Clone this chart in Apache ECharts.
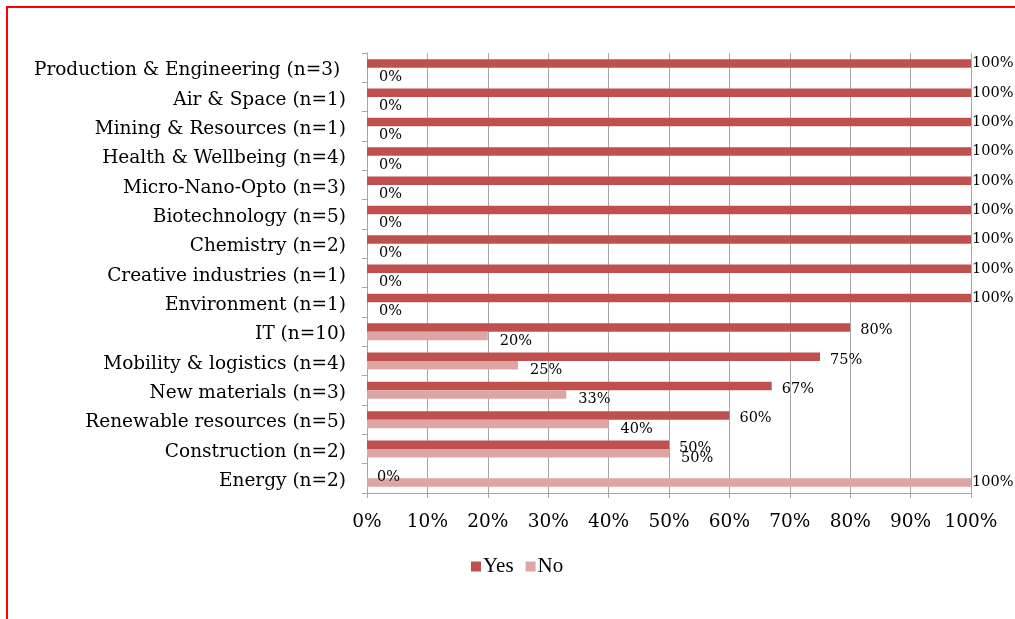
<!DOCTYPE html>
<html>
<head>
<meta charset="utf-8">
<title>Sectors</title>
<script src="https://cdn.jsdelivr.net/npm/echarts@6/dist/echarts.min.js"></script>
<style>
  html, body { margin: 0; padding: 0; background: #fff; }
  #chart { width: 1015px; height: 619px; }
</style>
</head>
<body>
<div id="chart"></div>
<script>
// Sectors, listed top to bottom
const categories = [
  'Production & Engineering (n=3) ',
  'Air & Space (n=1)',
  'Mining & Resources (n=1)',
  'Health & Wellbeing (n=4)',
  'Micro-Nano-Opto (n=3)',
  'Biotechnology (n=5)',
  'Chemistry (n=2)',
  'Creative industries (n=1)',
  'Environment (n=1)',
  'IT (n=10)',
  'Mobility & logistics (n=4)',
  'New materials (n=3)',
  'Renewable resources (n=5)',
  'Construction (n=2)',
  'Energy (n=2)'
];
const yesValues = [100, 100, 100, 100, 100, 100, 100, 100, 100, 80, 75, 67, 60, 50, 0];
const noValues  = [0, 0, 0, 0, 0, 0, 0, 0, 0, 20, 25, 33, 40, 50, 100];
const xTicks = [0, 10, 20, 30, 40, 50, 60, 70, 80, 90, 100];

const FONT = 'DejaVu Serif';
const GRID_GRAY = '#a6a6a6';

// Labels at the full-width end sit flush against the plot edge
function toItems(values, dist) {
  return values.map(v => (v === 100
    ? { value: v, label: { distance: 1, offset: [0, 0] } }
    : { value: v, label: { distance: dist } }));
}

const chart = echarts.init(document.getElementById('chart'), null, { renderer: 'canvas' });

chart.setOption({
  animation: false,
  backgroundColor: '#ffffff',
  graphic: [{
    type: 'rect',
    shape: { x: 7, y: 7, width: 1100, height: 700 },
    style: { fill: 'none', stroke: '#ff0000', lineWidth: 2 },
    silent: true
  }],
  grid: { left: 367, right: 44, top: 53, bottom: 126 },
  legend: {
    left: 466, top: 551,
    itemWidth: 10, itemHeight: 10, itemGap: 12,
    icon: 'rect',
    textStyle: { fontFamily: 'Liberation Serif', fontSize: 21, color: '#000', padding: [0, 0, 0, -3] },
    data: ['Yes', 'No']
  },
  xAxis: {
    type: 'value',
    min: xTicks[0], max: xTicks[xTicks.length - 1], interval: 10,
    axisLine: { show: true, lineStyle: { color: GRID_GRAY, width: 1 } },
    axisTick: { show: true, length: 5, lineStyle: { color: GRID_GRAY } },
    splitLine: { show: true, lineStyle: { color: GRID_GRAY, width: 1 } },
    axisLabel: {
      formatter: '{value}%', margin: 20,
      fontFamily: FONT, fontSize: 18.5, color: '#000'
    }
  },
  yAxis: {
    type: 'category',
    inverse: true,
    data: categories,
    axisLine: { show: true, lineStyle: { color: GRID_GRAY, width: 1 } },
    axisTick: { show: true, length: 5, lineStyle: { color: GRID_GRAY } },
    axisLabel: {
      margin: 21, color: '#000',
      formatter: v => '{c|' + v + '}',
      rich: { c: { fontFamily: FONT, fontSize: 18.5, color: '#000', padding: [6, 0, 0, 0] } }
    }
  },
  series: [
    {
      name: 'Yes', type: 'bar',
      data: toItems(yesValues, 10),
      barWidth: 8.5, barGap: '0%',
      itemStyle: { color: '#c0504d' },
      label: {
        show: true, position: 'right', offset: [0, 3],
        formatter: p => p.value + '%',
        fontFamily: FONT, fontSize: 14.5, color: '#000'
      }
    },
    {
      name: 'No', type: 'bar',
      data: toItems(noValues, 12),
      barWidth: 8.5, barGap: '0%',
      itemStyle: { color: '#dda5a3' },
      label: {
        show: true, position: 'right', offset: [0, 5],
        formatter: p => p.value + '%',
        fontFamily: FONT, fontSize: 14.5, color: '#000'
      }
    }
  ]
});
</script>
</body>
</html>
